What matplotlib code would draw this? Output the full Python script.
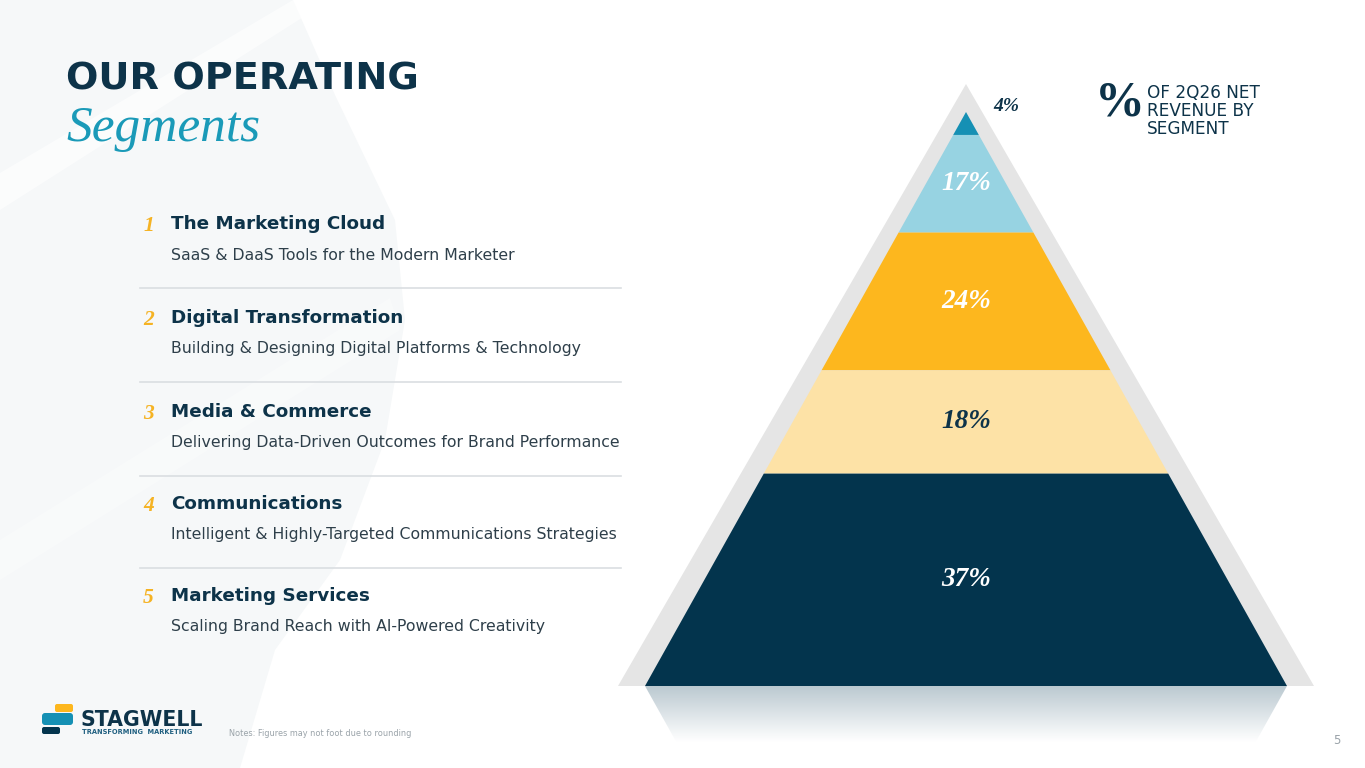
import matplotlib
matplotlib.use("Agg")
import matplotlib.pyplot as plt
from matplotlib.patches import Polygon, FancyBboxPatch
import numpy as np

# segment data, top of pyramid first
segments = ["The Marketing Cloud", "Digital Transformation", "Media & Commerce",
            "Communications", "Marketing Services"]
descriptions = ["SaaS & DaaS Tools for the Modern Marketer",
                "Building & Designing Digital Platforms & Technology",
                "Delivering Data-Driven Outcomes for Brand Performance",
                "Intelligent & Highly-Targeted Communications Strategies",
                "Scaling Brand Reach with AI-Powered Creativity"]
shares = [4, 17, 24, 18, 37]
band_colors = ["#1590b4", "#97d3e2", "#fdb71e", "#fde2a6", "#03344d"]
label_colors = ["#0d3349", "white", "white", "#0d3349", "white"]

navy = "#0d3349"
teal = "#1a9ab8"
gold = "#f5b324"

W, H = 1365, 768
fig = plt.figure(figsize=(W / 100, H / 100), dpi=100)
fig.patch.set_facecolor("white")

# pixel axes for the slide decoration and text
ax = fig.add_axes([0, 0, 1, 1])
ax.set_xlim(0, W)
ax.set_ylim(H, 0)
ax.axis("off")

# soft background shapes on the left
blob = [(0, 0), (293, 0), (335, 95), (395, 220), (405, 320), (385, 440),
        (340, 560), (275, 650), (240, 768), (0, 768)]
ax.add_patch(Polygon(blob, closed=True, facecolor="#f6f8f9", edgecolor="none"))
ax.add_patch(Polygon([(0, 173), (293, 0), (330, 0), (0, 210)], closed=True,
                     facecolor="white", edgecolor="none", alpha=0.6))
ax.add_patch(Polygon([(0, 540), (390, 298), (400, 330), (0, 580)], closed=True,
                     facecolor="white", edgecolor="none", alpha=0.3))

# title
ax.text(66, 90, "OUR OPERATING", fontsize=27.5, fontweight="bold", color=navy,
        family="DejaVu Sans", ha="left", va="baseline")
ax.text(66, 141, "Segments", fontsize=37, style="italic", color=teal,
        family="Liberation Serif", ha="left", va="baseline")

# segment list
title_y = [224, 318, 412, 504, 596]
for i, (name, desc) in enumerate(zip(segments, descriptions)):
    y = title_y[i]
    ax.text(143, y + 2, str(i + 1), fontsize=15.5, style="italic", fontweight="bold",
            color=gold, family="Liberation Serif", ha="left", va="center")
    ax.text(171, y, name, fontsize=13.2, fontweight="bold", color=navy,
            family="DejaVu Sans", ha="left", va="center")
    ax.text(171, y + 31, desc, fontsize=11.3, color="#2e3f4a",
            family="DejaVu Sans", ha="left", va="center")
    if i < len(segments) - 1:
        ax.plot([140, 621], [y + 64, y + 64], color="#dadee1", lw=1.2)

# legend text top right
ax.text(1095, 103, "%", fontsize=36, fontweight="bold", color=navy,
        family="Liberation Serif", ha="left", va="center")
for k, line in enumerate(["OF 2Q26 NET", "REVENUE BY", "SEGMENT"]):
    ax.text(1147, 93 + 18 * k, line, fontsize=12.2, color=navy,
            family="DejaVu Sans", ha="left", va="center")

# logo
ax.add_patch(FancyBboxPatch((55, 704), 18, 8, boxstyle="round,pad=0,rounding_size=2",
                            facecolor="#fdb71e", edgecolor="none"))
ax.add_patch(FancyBboxPatch((42, 713), 31, 12, boxstyle="round,pad=0,rounding_size=3",
                            facecolor="#1590b4", edgecolor="none"))
ax.add_patch(FancyBboxPatch((42, 727), 18, 7, boxstyle="round,pad=0,rounding_size=2",
                            facecolor="#03344d", edgecolor="none"))
ax.text(80, 720, "STAGWELL", fontsize=14.8, fontweight="bold", color=navy,
        family="DejaVu Sans", ha="left", va="center")
ax.text(82, 732, "TRANSFORMING  MARKETING", fontsize=4.8, fontweight="bold",
        color="#1f5f80", family="DejaVu Sans", ha="left", va="center")

ax.text(229, 733, "Notes: Figures may not foot due to rounding", fontsize=5.9,
        color="#9aa3a9", family="DejaVu Sans", ha="left", va="center")
ax.text(1337, 740, "5", fontsize=8.5, color="#9aa3a9", family="DejaVu Sans",
        ha="center", va="center")

# pyramid axes: x is relative half width, y is cumulative share (0 = base)
base_px, apex_px, left_px, right_px = 686, 112, 645, 1287
pax = fig.add_axes([left_px / W, (H - base_px) / H, (right_px - left_px) / W,
                    (base_px - apex_px) / H])
pax.set_xlim(-1, 1)
pax.set_ylim(0, 100)
pax.axis("off")
pax.patch.set_alpha(0)

total = sum(shares)
scale = 100 / total

# grey frame triangle behind
g_top = 100 + (apex_px - 84) / (base_px - apex_px) * 100
g_half = 348 / 321
pax.add_patch(Polygon([(-g_half, 0), (g_half, 0), (0, g_top)], closed=True,
                      facecolor="#e5e5e5", edgecolor="none", clip_on=False, zorder=1))


def half_width(y):
    return 1 - y / 100


cum = 100.0
for share, col, lcol in zip(shares, band_colors, label_colors):
    hi = cum
    lo = cum - share * scale
    poly = [(-half_width(lo), lo), (half_width(lo), lo),
            (half_width(hi), hi), (-half_width(hi), hi)]
    pax.add_patch(Polygon(poly, closed=True, facecolor=col, edgecolor="none",
                          clip_on=False, zorder=2))
    if share < 8:
        pax.text(0.085, hi + 1.0, f"{share}%", fontsize=14, fontweight="bold",
                 style="italic", color=lcol, family="Liberation Serif",
                 ha="left", va="center", zorder=3)
    else:
        pax.text(0, (lo + hi) / 2, f"{share}%", fontsize=19.5, fontweight="bold",
                 style="italic", color=lcol, family="Liberation Serif",
                 ha="center", va="center", zorder=3)
    cum = lo

# reflection below the base, fading out
depth = 56 / (base_px - apex_px) * 100
fade = np.linspace(0, 1, 100)
rgba = np.zeros((100, 1, 4))
rgba[..., 0] = 0.72
rgba[..., 1] = 0.78
rgba[..., 2] = 0.81
rgba[:, 0, 3] = (1 - fade) * 0.95
img = pax.imshow(rgba, extent=[-1, 1, -depth, 0], origin="upper", aspect="auto",
                 zorder=1.5)
refl = Polygon([(-1, 0), (1, 0), (half_width(depth), -depth),
                (-half_width(depth), -depth)], closed=True,
               transform=pax.transData, facecolor="none", edgecolor="none")
img.set_clip_box(fig.bbox)
img.set_clip_path(refl)
img.set_clip_on(True)
pax.set_xlim(-1, 1)
pax.set_ylim(0, 100)

fig.savefig("out.png", dpi=100, facecolor="white")
